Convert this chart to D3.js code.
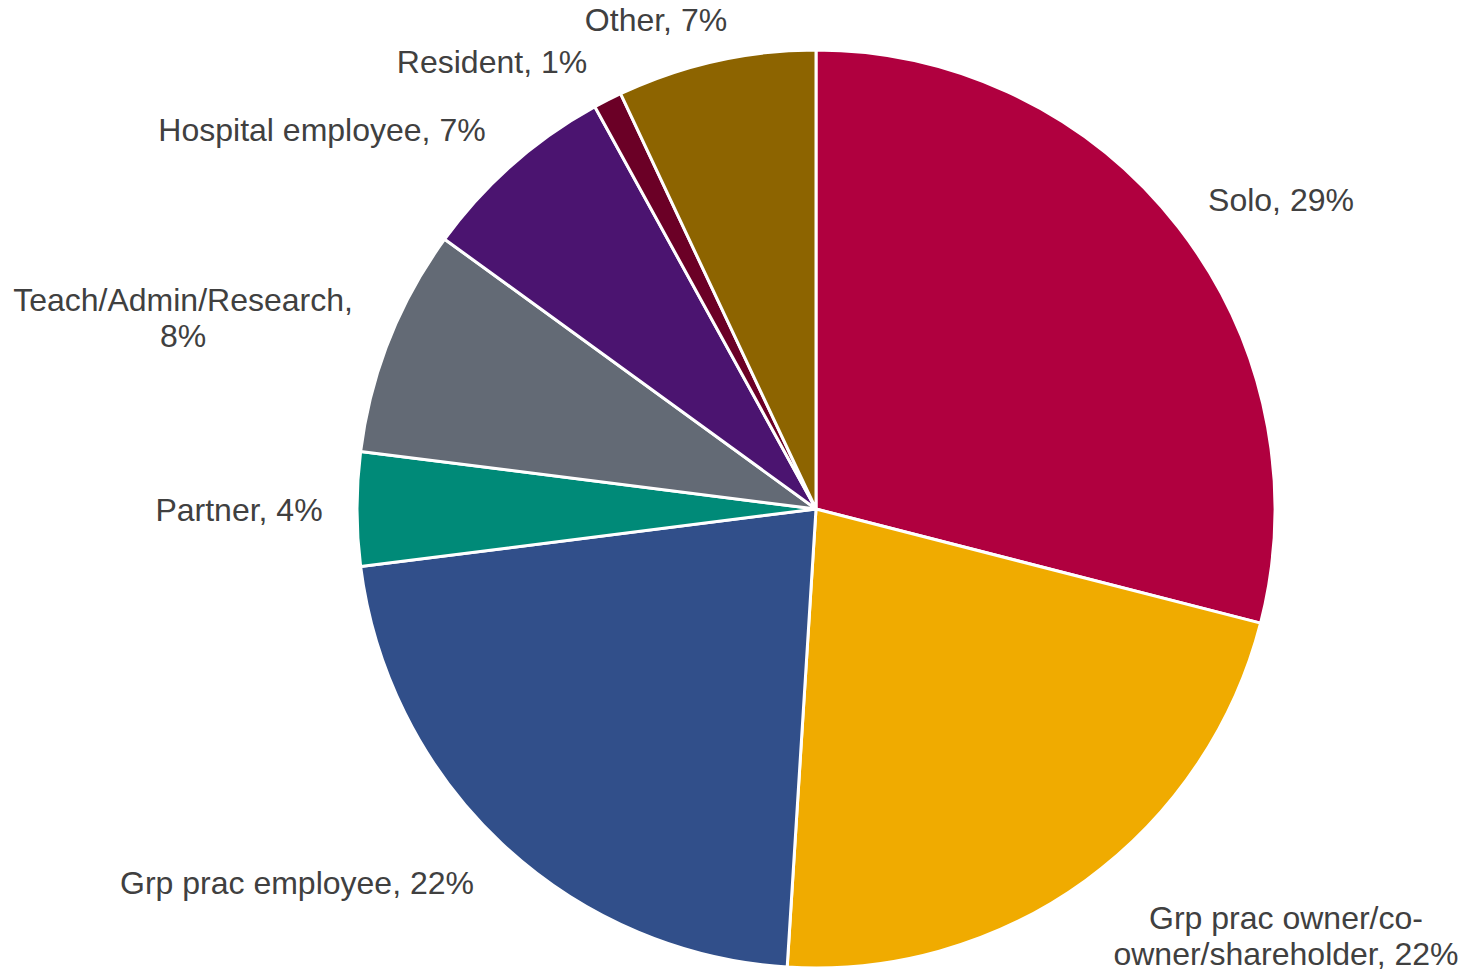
<!DOCTYPE html>
<html>
<head>
<meta charset="utf-8">
<script src="https://cdn.jsdelivr.net/npm/d3@7/dist/d3.min.js"></script>
<style>
  html, body { margin: 0; padding: 0; background: #ffffff; }
  svg { display: block; }
  text { font-family: "Liberation Sans", Arial, sans-serif; fill: #404040; }
</style>
</head>
<body>
<svg id="chart" width="1466" height="975"></svg>
<script>
// Practice setting shares (percent), clockwise from 12 o'clock
const categories = [
  "Solo",
  "Grp prac owner/co-owner/shareholder",
  "Grp prac employee",
  "Partner",
  "Teach/Admin/Research",
  "Hospital employee",
  "Resident",
  "Other"
];
const shares = [29, 22, 22, 4, 8, 7, 1, 7];
const colors = ["#B0003F", "#F0AB00", "#314F8A", "#008A78", "#636A75", "#4B1470", "#6B0026", "#8D6400"];
// Label lines as displayed (category name, share)
const labelLines = [
  ["Solo, 29%"],
  ["Grp prac owner/co-", "owner/shareholder, 22%"],
  ["Grp prac employee, 22%"],
  ["Partner, 4%"],
  ["Teach/Admin/Research,", "8%"],
  ["Hospital employee, 7%"],
  ["Resident, 1%"],
  ["Other, 7%"]
];

const svg = d3.select("#chart");
const cx = 816, cy = 509, radius = 459;

const pie = d3.pie().sort(null).value(d => d.value);
const arcs = pie(shares.map((v, i) => ({ name: categories[i], value: v, idx: i })));
const arc = d3.arc().innerRadius(0).outerRadius(radius);

const g = svg.append("g").attr("transform", `translate(${cx},${cy})`);
g.selectAll("path.slice")
  .data(arcs)
  .join("path")
  .attr("class", "slice")
  .attr("d", arc)
  .attr("fill", d => colors[d.data.idx])
  .attr("stroke", "#ffffff")
  .attr("stroke-width", 3)
  .attr("stroke-linejoin", "round");

// Label placement: anchor point for each label block (center of text block)
const labelPos = [
  [1281, 200],
  [1286, 936],
  [297, 883],
  [239, 510],
  [183, 318],
  [322, 130],
  [492, 62],
  [656, 20]
];
const fontSize = 32, lineGap = 36.5;

svg.selectAll("text.lbl")
  .data(arcs)
  .join("text")
  .attr("class", "lbl")
  .attr("text-anchor", "middle")
  .attr("font-size", fontSize)
  .each(function(d) {
    const lines = labelLines[d.data.idx];
    const [x, y] = labelPos[d.data.idx];
    const top = y - (lines.length - 1) * lineGap / 2;
    d3.select(this).selectAll("tspan")
      .data(lines)
      .join("tspan")
      .attr("x", x)
      .attr("y", (l, i) => top + i * lineGap)
      .attr("dy", "0.35em")
      .text(l => l);
  });
</script>
</body>
</html>
